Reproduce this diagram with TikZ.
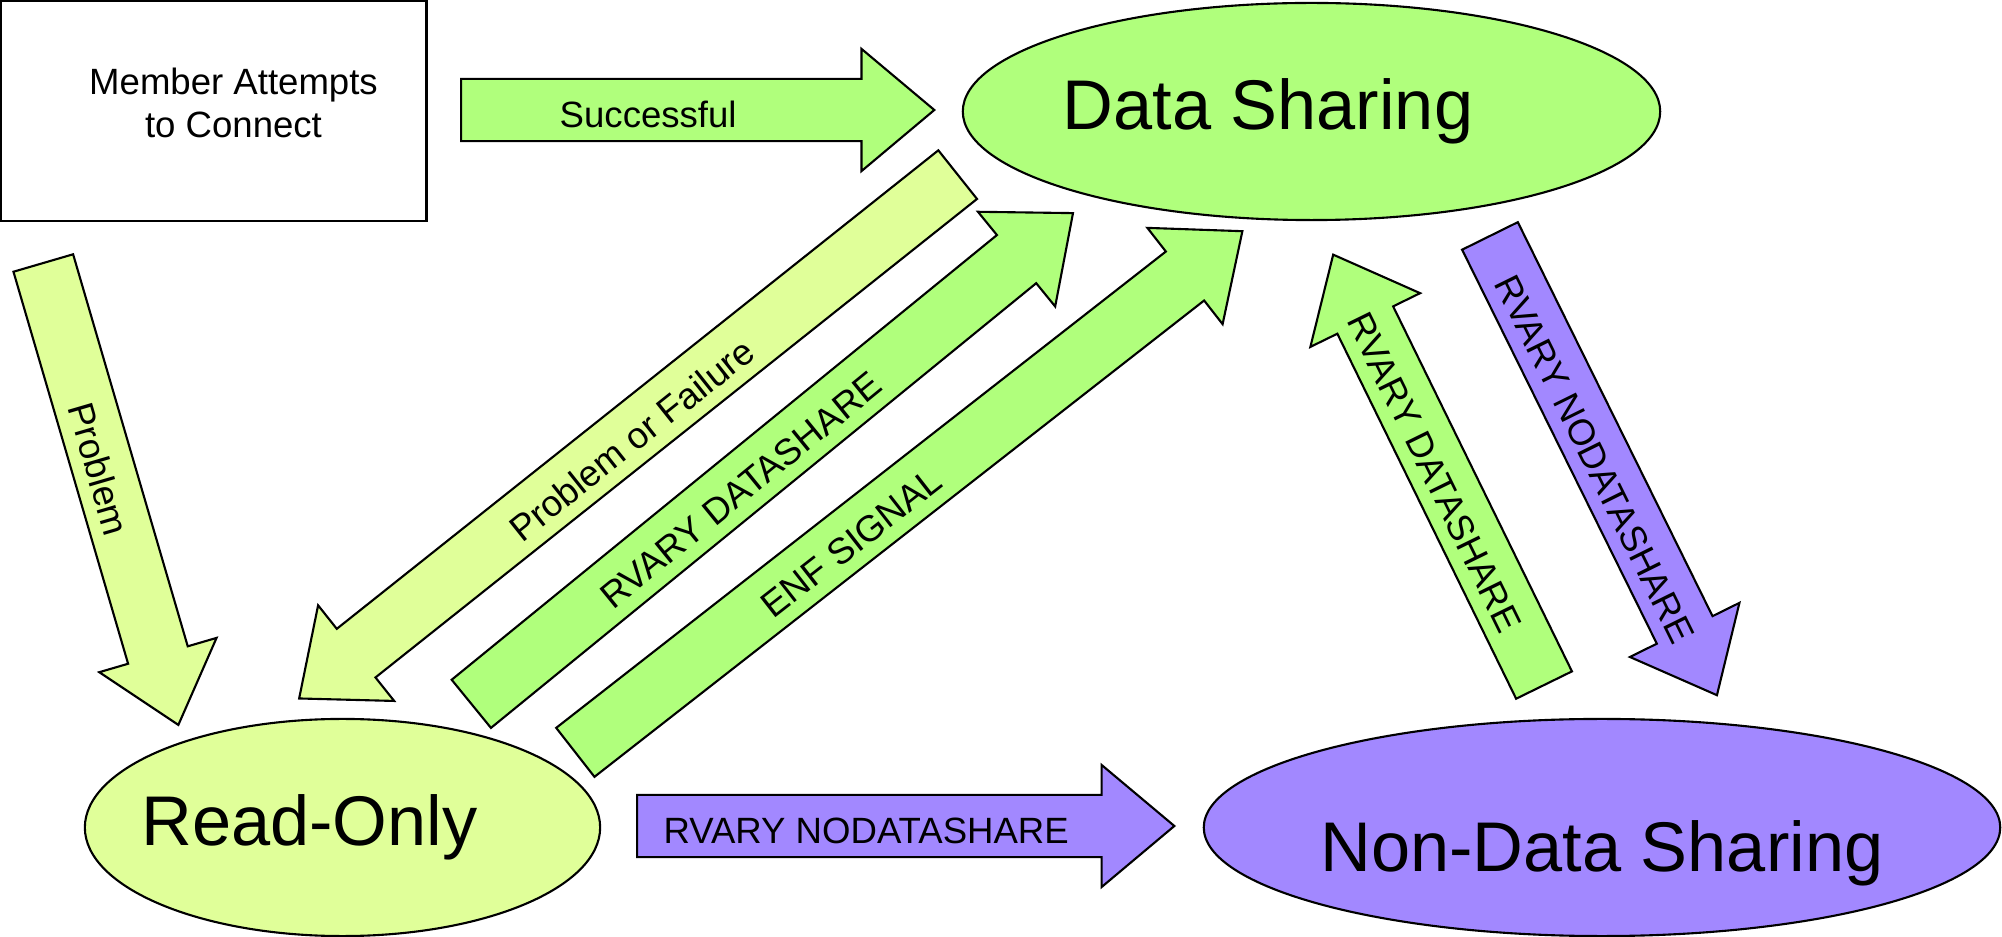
\documentclass[tikz,border=0pt]{standalone}
\usepackage{fontspec}
\setmainfont{Liberation Sans}
\usetikzlibrary{shapes.geometric,shapes.arrows}

\definecolor{paleGreen}{RGB}{224,255,153}
\definecolor{brightGreen}{RGB}{176,255,124}
\definecolor{lilac}{RGB}{162,136,255}

\tikzset{
  smalltext/.style={font=\fontsize{10.4}{12.2}\selectfont},
  bigtext/.style={font=\fontsize{20}{24}\selectfont},
  stateellipse/.style={ellipse, draw, line width=0.6pt, inner sep=0pt},
  blockarrow/.style={single arrow, draw, line width=0.6pt, smalltext, anchor=tail,
    text height=0.35cm, text depth=0cm, inner ysep=0.125cm, inner xsep=0pt,
    single arrow head extend=0.3cm, single arrow tip angle=80},
  flip/.style={shape border rotate=180},
  textshift/.style={execute at begin node={\hspace*{#1}}},
}

\begin{document}
\begin{tikzpicture}[x=0.01cm, y=-0.01cm]
  \useasboundingbox (0,0) rectangle (2002,937);

  % the start box and the three states
  \node[draw, line width=0.8pt, minimum width=4.25cm, minimum height=2.20cm,
    label={[smalltext, align=center, xshift=2mm, yshift=0.8mm]center:Member Attempts\\to Connect}] (member) at (213.5,111) {};
  \node[stateellipse, fill=brightGreen, minimum width=6.97cm, minimum height=2.17cm,
    label={[bigtext, xshift=-4.35mm]center:Data Sharing}] (datasharing) at (1311.5,111.5) {};
  \node[stateellipse, fill=paleGreen, minimum width=5.15cm, minimum height=2.17cm,
    label={[bigtext, xshift=-3.3mm]center:Read-Only}] (readonly) at (342.5,827.5) {};
  \node[stateellipse, fill=lilac, minimum width=7.96cm, minimum height=2.17cm,
    label={[bigtext, yshift=-2.6mm]center:Non-Data Sharing}] (nondatasharing) at (1602,827.5) {};

  % transitions, each placed at its tail
  \node[blockarrow, fill=brightGreen, textshift=-0.62cm, minimum height=4.73cm] (successful) at (460,110) {Successful};
  \node[blockarrow, fill=paleGreen, textshift=-0.18cm, rotate=-73.7, minimum height=4.81cm] (problem) at (43,262) {Problem};
  \node[blockarrow, fill=paleGreen, flip, textshift=-0.36cm, rotate=38.5, minimum height=8.41cm] (failure) at (958.5,174) {Problem or Failure};
  \node[blockarrow, fill=brightGreen, textshift=-0.52cm, rotate=39.2, minimum height=7.76cm] (rodatashare) at (470.5,704.5) {RVARY DATASHARE};
  \node[blockarrow, fill=brightGreen, textshift=-1.16cm, rotate=38.0, minimum height=8.46cm] (enfsignal) at (574.5,753) {ENF SIGNAL};
  \node[blockarrow, fill=lilac, textshift=-0.42cm, minimum height=5.37cm] (ronodatashare) at (636,826) {RVARY NODATASHARE};
  \node[blockarrow, fill=brightGreen, flip, textshift=-0.36cm, rotate=-63.9, minimum height=4.79cm] (nddatashare) at (1544.5,686) {RVARY DATASHARE};
  \node[blockarrow, fill=lilac, textshift=0.18cm, rotate=-63.7, minimum height=5.12cm] (dsnodatashare) at (1489.5,235) {RVARY NODATASHARE};
\end{tikzpicture}
\end{document}
